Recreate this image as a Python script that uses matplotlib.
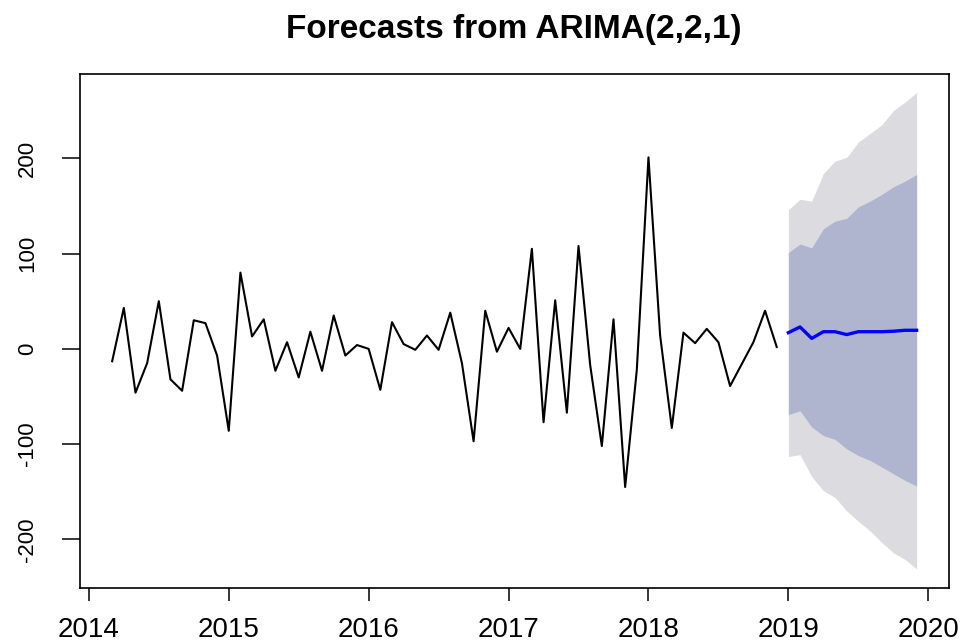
import matplotlib.pyplot as plt
import numpy as np

# Monthly series, starting March 2014
start_year = 2014
start_month = 3
observed = [-13, 43, -46, -15, 50, -32, -44, 30, 27, -7, -86, 80,
            13, 31, -23, 7, -30, 18, -23, 35, -7, 4, 0, -43,
            28, 5, -1, 14, -1, 38, -15, -97, 40, -3, 22, 0,
            105, -77, 51, -67, 108, -17, -102, 31, -145, -22, 201, 14,
            -83, 17, 6, 21, 7, -39, -16, 7, 40, 2]

# Forecast, January 2019 onwards
fc_mean = [17, 23, 11, 18, 18, 15, 18, 18, 18, 18.5, 19.5, 19.5]
lo80 = [-69, -65, -82, -91, -95, -105, -112, -117, -124, -131, -138, -144]
hi80 = [101, 110, 106, 126, 134, 137, 149, 155, 162, 170, 176, 183]
lo95 = [-113, -111, -134, -149, -156, -170, -181, -191, -203, -214, -221, -231]
hi95 = [146, 157, 155, 184, 197, 201, 217, 226, 235, 250, 259, 269]

x_ticks = [2014, 2015, 2016, 2017, 2018, 2019, 2020]
y_ticks = [-200, -100, 0, 100, 200]

t_obs = start_year + (start_month - 1) / 12 + np.arange(len(observed)) / 12
t_fc = t_obs[-1] + (np.arange(len(fc_mean)) + 1) / 12

plt.rcParams['font.family'] = ['Liberation Sans', 'DejaVu Sans']

fig = plt.figure(figsize=(9.66, 6.42), dpi=100)
ax = fig.add_axes([0.0828, 0.0841, 0.8994, 0.8014])

ax.fill_between(t_fc, lo95, hi95, color='#dbdbe0', lw=0)
ax.fill_between(t_fc, lo80, hi80, color='#b0b5cf', lw=0)
ax.plot(t_obs, observed, color='black', lw=1.5)
ax.plot(t_fc, fc_mean, color='#0000ff', lw=2.4)

ax.margins(x=0.04, y=0.04)

ax.set_xticks(x_ticks)
ax.set_yticks(y_ticks)
ax.set_yticklabels([str(v) for v in y_ticks], rotation=90, va='center')
ax.tick_params(axis='x', length=9, width=1.1, pad=12, labelsize=20)
ax.tick_params(axis='y', length=13, width=1.1, pad=17, labelsize=16)
for s in ax.spines.values():
    s.set_linewidth(1.2)

fig.text(0.532, 1 - 38 / 642, 'Forecasts from ARIMA(2,2,1)', ha='center',
         va='baseline', fontsize=24, fontweight='bold')

fig.savefig('out.png', dpi=100)
